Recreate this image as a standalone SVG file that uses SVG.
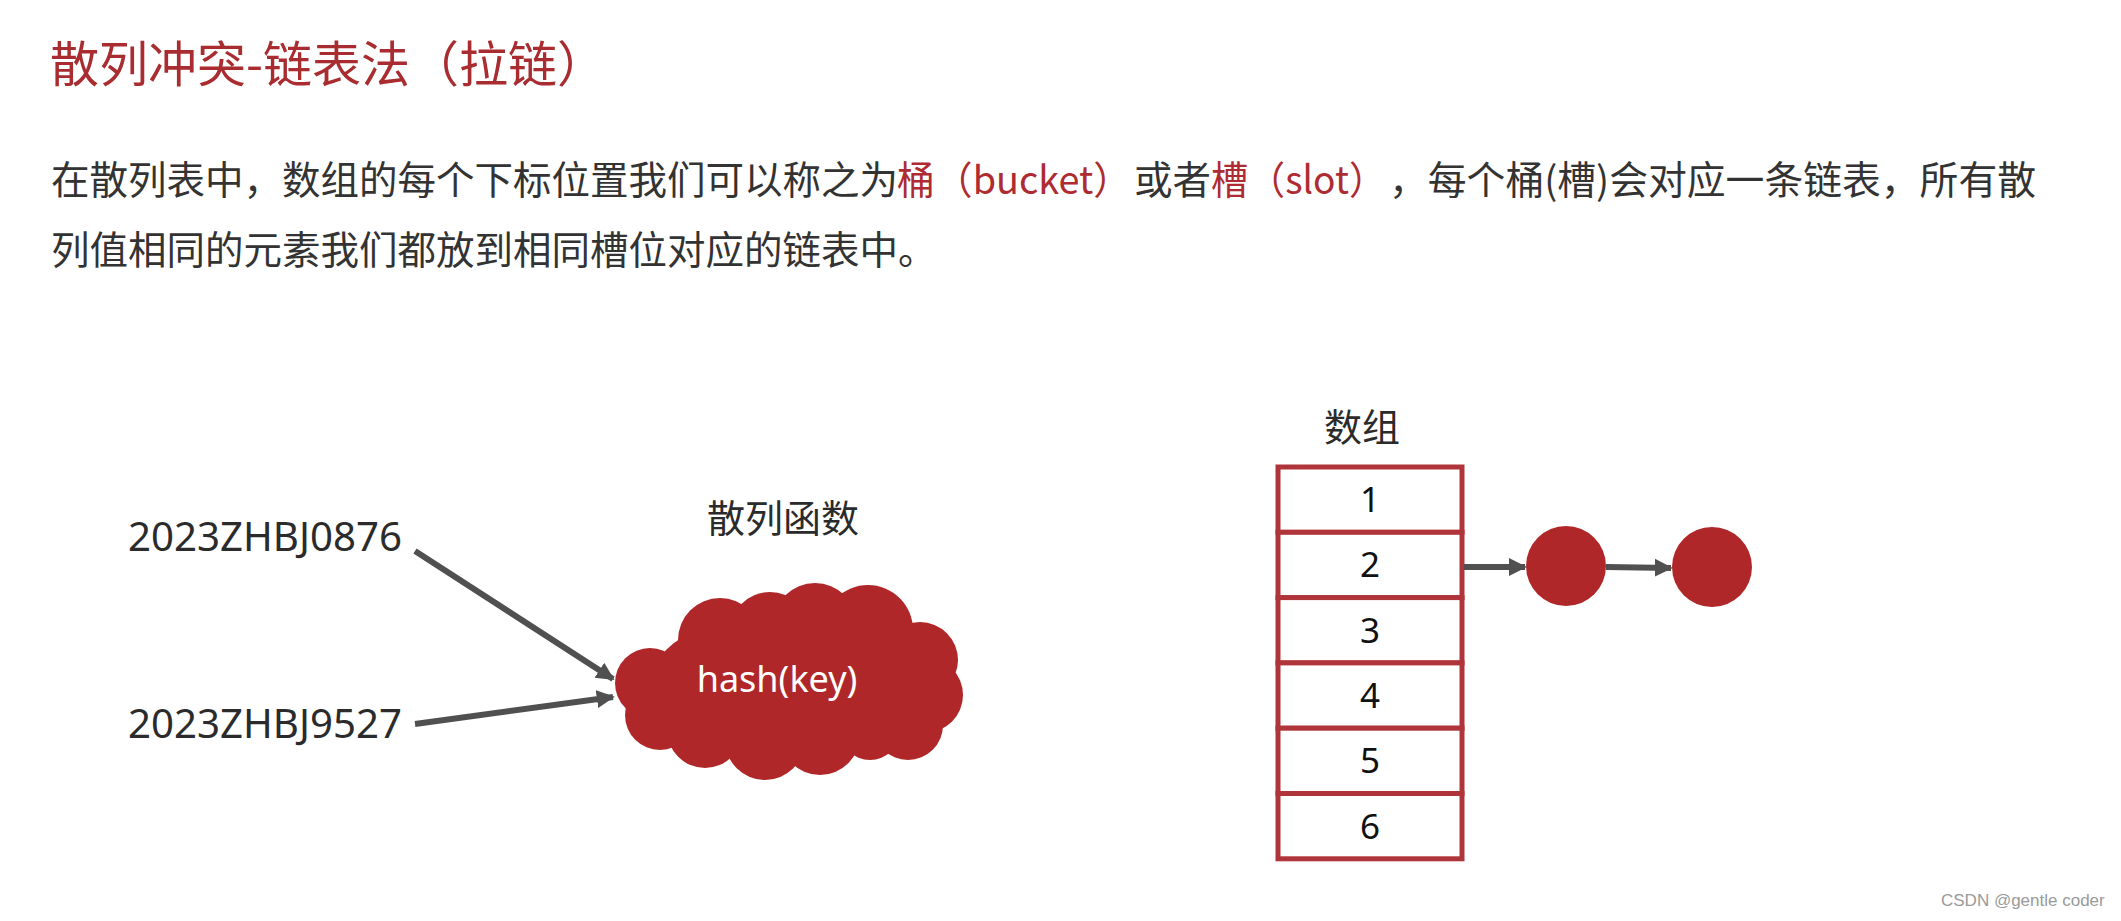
<svg xmlns="http://www.w3.org/2000/svg" width="2121" height="921" viewBox="0 0 2121 921">
<style>
.cjk{font-family:"Noto Sans CJK SC","Noto Sans",sans-serif}
.title{font-size:49px;fill:#a82c30}
.para{font-size:38.5px;fill:#333}
.red{fill:#ad2b31}
.lbl{font-family:"Noto Sans","Noto Sans CJK SC",sans-serif;font-size:40px;fill:#2b2b2b}
.num{font-family:"Noto Sans",sans-serif;font-size:35px;fill:#111;text-anchor:middle}
.conn{stroke:#505050;stroke-width:6;fill:none}
.node{fill:#b0272a}
.cell{fill:#fff;stroke:#b0353a;stroke-width:5}
</style>
<defs>
<marker id="ah" viewBox="0 0 10 10" refX="9" refY="5" markerWidth="3" markerHeight="3.4" markerUnits="strokeWidth" orient="auto">
<path d="M0,0 L10,5 L0,10 z" fill="#505050"/>
</marker>
</defs>
<rect width="2121" height="921" fill="#fff"/>
<g id="title"><text class="cjk title" x="50" y="82">散列冲突-链表法（拉链）</text></g>
<g id="paragraph" class="cjk para">
<text y="194"><tspan x="51">在散列表中，数组的每个下标位置我们可以称之为</tspan><tspan x="897" class="red" textLength="234" lengthAdjust="spacingAndGlyphs">桶（bucket）</tspan><tspan x="1134">或者</tspan><tspan x="1211" class="red" textLength="175" lengthAdjust="spacingAndGlyphs">槽（slot）</tspan><tspan x="1389" textLength="647" lengthAdjust="spacingAndGlyphs">，每个桶(槽)会对应一条链表，所有散</tspan></text>
<text x="51" y="264">列值相同的元素我们都放到相同槽位对应的链表中。</text>
</g>
<g id="key1"><text class="lbl" x="128" y="551" textLength="274" lengthAdjust="spacingAndGlyphs">2023ZHBJ0876</text></g>
<g id="key2"><text class="lbl" x="128" y="738" textLength="274" lengthAdjust="spacingAndGlyphs">2023ZHBJ9527</text></g>
<g id="hash-label"><text class="cjk" x="707" y="532" font-size="38" fill="#2b2b2b">散列函数</text></g>
<g id="hash-cloud">
<g class="node">
<ellipse cx="790" cy="685" rx="140" ry="75"/>
<circle cx="650" cy="683" r="35"/>
<circle cx="720" cy="640" r="42"/>
<circle cx="770" cy="632" r="40"/>
<circle cx="815" cy="625" r="42"/>
<circle cx="868" cy="630" r="45"/>
<circle cx="920" cy="660" r="38"/>
<circle cx="925" cy="695" r="38"/>
<circle cx="908" cy="725" r="35"/>
<circle cx="870" cy="730" r="30"/>
<circle cx="820" cy="735" r="40"/>
<circle cx="765" cy="740" r="40"/>
<circle cx="705" cy="730" r="38"/>
<circle cx="660" cy="715" r="35"/>
</g>
<text x="777" y="692" font-family="Noto Sans,sans-serif" font-size="36" fill="#fff" text-anchor="middle">hash(key)</text>
</g>
<g id="array-label"><text class="cjk" x="1324" y="441" font-size="38" fill="#2b2b2b">数组</text></g>
<g id="array">
<rect class="cell" x="1278" y="467" width="184" height="65.3"/>
<rect class="cell" x="1278" y="532.3" width="184" height="65.3"/>
<rect class="cell" x="1278" y="597.6" width="184" height="65.3"/>
<rect class="cell" x="1278" y="662.9" width="184" height="65.3"/>
<rect class="cell" x="1278" y="728.2" width="184" height="65.3"/>
<rect class="cell" x="1278" y="793.5" width="184" height="65.3"/>
<text class="num" x="1370" y="512">1</text>
<text class="num" x="1370" y="577">2</text>
<text class="num" x="1370" y="643">3</text>
<text class="num" x="1370" y="708">4</text>
<text class="num" x="1370" y="773">5</text>
<text class="num" x="1370" y="839">6</text>
</g>
<g id="node1"><circle class="node" cx="1566" cy="566" r="40"/></g>
<g id="node2"><circle class="node" cx="1712" cy="567" r="40"/></g>
<g id="connectors">
<line class="conn" x1="415" y1="551" x2="613" y2="679" marker-end="url(#ah)"/>
<line class="conn" x1="415" y1="724" x2="613" y2="697" marker-end="url(#ah)"/>
<line class="conn" x1="1464" y1="567" x2="1525" y2="567" marker-end="url(#ah)"/>
<line class="conn" x1="1606" y1="567" x2="1671" y2="568" marker-end="url(#ah)"/>
</g>
<g id="watermark"><text x="1941" y="906" font-family="Liberation Sans,sans-serif" font-size="17" fill="#9a9a9a">CSDN @gentle coder</text></g>
</svg>
